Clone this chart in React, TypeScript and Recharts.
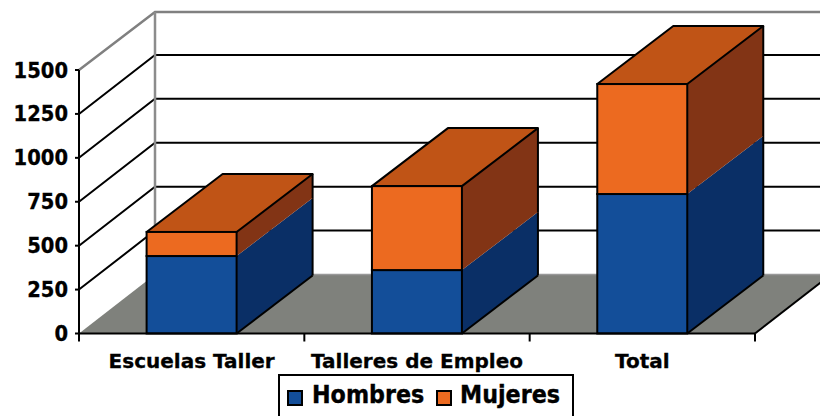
import React from 'react';
import { BarChart, Bar, XAxis, YAxis, CartesianGrid, Legend } from 'recharts';

const categories = ['Escuelas Taller', 'Talleres de Empleo', 'Total'];
const hombres = [441, 361, 794];
const mujeres = [137, 478, 626];
const yTicks = [0, 250, 500, 750, 1000, 1250, 1500];
const data = categories.map((name, i) => ({ name, Hombres: hombres[i], Mujeres: mujeres[i] }));

const DX = 76;
const DY = 59;
const BAR_TOP_DY = 58;
const FONT = '"DejaVu Sans", Verdana, sans-serif';
const BLUE = '#134e99';
const BLUE_SIDE = '#0a2f66';
const ORANGE = '#ec6a20';
const ORANGE_TOP = '#c05416';
const ORANGE_SIDE = '#823415';
const GREY = '#7f817c';

function GridLine(props: any) {
  const { x1, x2, y1, index, height } = props;
  const isFloor = index === 0;
  const isTop = index === yTicks.length - 1;
  const topDy = DY - 1;
  return (
    <g>
      {isFloor && (
        <>
          <polygon points={`${x1},${y1} ${x1 + DX},${y1 - DY} ${x2 + DX},${y1 - DY} ${x2},${y1}`} fill={GREY} stroke="none" />
          <line x1={x1 + DX} y1={y1 - DY} x2={x2 + DX} y2={y1 - DY} stroke="#999" strokeWidth={1.5} />
          <line x1={x2} y1={y1} x2={x2 + DX} y2={y1 - DY} stroke="#000" strokeWidth={2} />
        </>
      )}
      {!isFloor && !isTop && (
        <polyline points={`${x1},${y1} ${x1 + DX},${y1 - DY} ${x2 + DX},${y1 - DY}`} fill="none" stroke="#000" strokeWidth={2} />
      )}
      {isTop && (
        <>
          <polyline points={`${x1},${y1} ${x1 + DX},${y1 - topDy} ${x2 + DX},${y1 - topDy}`} fill="none" stroke="#808080" strokeWidth={2.5} />
          <line x1={x1 + DX} y1={y1 - topDy} x2={x1 + DX} y2={y1 - DY + height} stroke="#8c8c8c" strokeWidth={2.5} />
        </>
      )}
    </g>
  );
}

function Box3D(props: any, side: string, top: string | null, front: string, bottomEdge: boolean) {
  const { x, y, width, height } = props;
  const r = x + width;
  const b = y + height;
  const d = BAR_TOP_DY;
  return (
    <g>
      <polygon points={`${r},${y} ${r + DX},${y - d} ${r + DX},${b - d} ${r},${b}`} fill={side} stroke="none" />
      {top && <polygon points={`${x},${y} ${x + DX},${y - d} ${r + DX},${y - d} ${r},${y}`} fill={top} stroke="#000" strokeWidth={2} strokeLinejoin="round" />}
      <line x1={r + DX} y1={y - d} x2={r + DX} y2={b - d} stroke="#000" strokeWidth={2} />
      {bottomEdge && <line x1={r} y1={b} x2={r + DX} y2={b - d} stroke="#000" strokeWidth={2} />}
      <rect x={x} y={y} width={width} height={height} fill={front} stroke="#000" strokeWidth={2} />
    </g>
  );
}

const HombresShape = (p: any) => Box3D(p, BLUE_SIDE, null, BLUE, true);
const MujeresShape = (p: any) => Box3D(p, ORANGE_SIDE, ORANGE_TOP, ORANGE, false);

function XTick(props: any) {
  const { x, y, index, payload, width, visibleTicksCount } = props;
  const step = width / visibleTicksCount;
  const axisY = y - 8;
  return (
    <g>
      {index === 0 && <line x1={x - step / 2} y1={axisY} x2={x - step / 2} y2={axisY + 8} stroke="#000" strokeWidth={2} />}
      <line x1={x + step / 2} y1={axisY} x2={x + step / 2} y2={axisY + 8} stroke="#000" strokeWidth={2} />
      <text x={x} y={axisY + 34.5} textAnchor="middle" fontFamily={FONT} fontWeight={700} fontSize={20} fill="#000" stroke="#000" strokeWidth={0.3}>
        {payload.value}
      </text>
    </g>
  );
}

function YTick(props: any) {
  const { x, y, payload } = props;
  const label = String(payload.value);
  return (
    <text x={x - 1} y={y + 7.5} textAnchor="end" fontFamily={FONT} fontWeight={700} fontSize={20.5} fill="#000" stroke="#000" strokeWidth={0.3} textLength={label.length * 13.6} lengthAdjust="spacingAndGlyphs">
      {label}
    </text>
  );
}

const squareLeft = [9, 158];
const textLeft = [34, 182];

function LegendBox(props: any) {
  const items = props.payload || [];
  return (
    <div style={{ position: 'relative', boxSizing: 'border-box', width: 296, height: 50, border: '2px solid #000', background: '#fff', fontFamily: FONT, fontWeight: 700, fontSize: 25, color: '#000', marginLeft: -1 }}>
      {items.map((it: any, i: number) => (
        <React.Fragment key={it.value}>
          <span style={{ position: 'absolute', left: squareLeft[i] - 2, top: 14, boxSizing: 'border-box', width: 16, height: 16, background: it.color, border: '2px solid #000' }} />
          <span style={{ position: 'absolute', left: textLeft[i] - 2, top: 4, whiteSpace: 'nowrap', transform: 'scaleX(0.89)', transformOrigin: 'left center', lineHeight: '30px', WebkitTextStroke: '0.4px #000' }}>{it.value}</span>
        </React.Fragment>
      ))}
    </div>
  );
}

export default function App() {
  return (
    <div style={{ position: 'absolute', left: 0, top: 0, width: 820, height: 416, overflow: 'hidden', background: '#fff' }}>
      <BarChart width={820} height={416} data={data} margin={{ top: 70, right: 65, bottom: 0, left: 0 }} barCategoryGap="30%">
        <CartesianGrid horizontal={GridLine as any} vertical={false} />
        <XAxis dataKey="name" axisLine={{ stroke: '#000', strokeWidth: 2 }} tickLine={false} tick={XTick as any} tickMargin={0} tickSize={8} height={82.5} interval={0} />
        <YAxis domain={[0, 1500]} ticks={yTicks} axisLine={{ stroke: '#000', strokeWidth: 2 }} tickLine={{ stroke: '#000', strokeWidth: 2 }} tickSize={4} tickMargin={6} width={79} tick={YTick as any} interval={0} />
        <Legend layout="horizontal" verticalAlign="middle" align="center" content={LegendBox as any} wrapperStyle={{ position: 'absolute', left: 279, top: 374, width: 296, height: 50 }} />
        <Bar dataKey="Hombres" stackId="a" fill={BLUE} shape={HombresShape as any} isAnimationActive={false} />
        <Bar dataKey="Mujeres" stackId="a" fill={ORANGE} shape={MujeresShape as any} isAnimationActive={false} />
      </BarChart>
    </div>
  );
}
